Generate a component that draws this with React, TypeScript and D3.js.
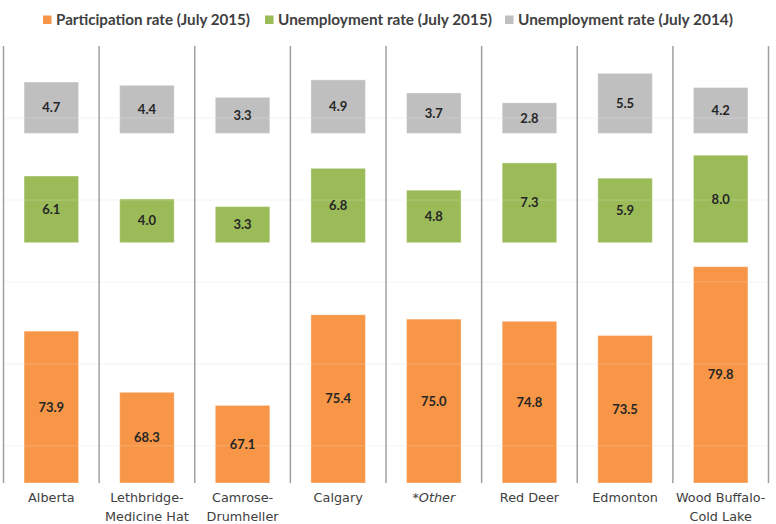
import { useEffect, useRef } from "react";
import * as d3 from "d3";

// regions along the x axis (two-line labels split on "\n")
const regions = [
  "Alberta",
  "Lethbridge-\nMedicine Hat",
  "Camrose-\nDrumheller",
  "Calgary",
  "*Other",
  "Red Deer",
  "Edmonton",
  "Wood Buffalo-\nCold Lake",
];

const participation2015 = [73.9, 68.3, 67.1, 75.4, 75.0, 74.8, 73.5, 79.8];
const unemployment2015 = [6.1, 4.0, 3.3, 6.8, 4.8, 7.3, 5.9, 8.0];
const unemployment2014 = [4.7, 4.4, 3.3, 4.9, 3.7, 2.8, 5.5, 4.2];

const seriesNames = [
  "Participation rate (July 2015)",
  "Unemployment rate (July 2015)",
  "Unemployment rate (July 2014)",
];
const seriesColors = ["#F79646", "#9BBB59", "#BFBFBF"];

// stacked panel layout, in axis units: participation starts at 60,
// unemployment bands float at fixed offsets above it
const participationFloor = 60;
const bandBase = [0, 22, 32];
const axisMax = 40;
const gridValues = [3.4, 10.9, 18.4, 25.9, 33.4];

export default function App() {
  const svgRef = useRef<SVGSVGElement>(null);

  useEffect(() => {
    if (!svgRef.current) return;
    const svg = d3.select(svgRef.current);
    svg.selectAll("*").remove();

    const plot = { left: 3.5, right: 768.5, top: 46, bottom: 483 };

    const x = d3
      .scaleBand<string>()
      .domain(regions)
      .range([plot.left, plot.right])
      .padding(0);
    const y = d3
      .scaleLinear()
      .domain([0, axisMax])
      .range([plot.bottom, plot.top]);

    const barW = 54.5;
    const inset = (x.bandwidth() - barW) / 2;

    // faint gridlines behind bars
    svg
      .append("g")
      .selectAll("line")
      .data(gridValues)
      .enter()
      .append("line")
      .attr("x1", plot.left)
      .attr("x2", plot.right)
      .attr("y1", (d) => y(d))
      .attr("y2", (d) => y(d))
      .attr("stroke", "#f3f3f3")
      .attr("stroke-width", 1);

    const series = [
      participation2015.map((v) => ({ v, lo: 0, hi: v - participationFloor })),
      unemployment2015.map((v) => ({ v, lo: bandBase[1], hi: bandBase[1] + v })),
      unemployment2014.map((v) => ({ v, lo: bandBase[2], hi: bandBase[2] + v })),
    ];

    series.forEach((s, si) => {
      svg
        .append("g")
        .selectAll("rect")
        .data(s)
        .enter()
        .append("rect")
        .attr("x", (_, i) => (x(regions[i]) as number) + inset)
        .attr("width", barW)
        .attr("y", (d) => y(d.hi))
        .attr("height", (d) => y(d.lo) - y(d.hi))
        .attr("fill", seriesColors[si])
        .attr("stroke", "#ffffff")
        .attr("stroke-opacity", 0.35)
        .attr("stroke-width", 1);
    });

    // gridlines show faintly through the bars
    svg
      .append("g")
      .selectAll("line")
      .data(gridValues)
      .enter()
      .append("line")
      .attr("x1", plot.left)
      .attr("x2", plot.right)
      .attr("y1", (d) => y(d))
      .attr("y2", (d) => y(d))
      .attr("stroke", "#ffffff")
      .attr("stroke-opacity", 0.2)
      .attr("stroke-width", 1);

    // value labels centred in each bar
    series.forEach((s) => {
      svg
        .append("g")
        .selectAll("text")
        .data(s)
        .enter()
        .append("text")
        .attr("x", (_, i) => (x(regions[i]) as number) + x.bandwidth() / 2)
        .attr("y", (d) => (y(d.lo) + y(d.hi)) / 2)
        .attr("dy", "0.35em")
        .attr("text-anchor", "middle")
        .attr("fill", "#262626")
        .style("font-family", "Lato, 'Open Sans', sans-serif")
        .style("font-weight", "bold")
        .style("font-size", "13px")
        .text((d) => d.v.toFixed(1));
    });

    // vertical panel separators
    const seps = regions.map((r) => x(r) as number).concat([plot.right]);
    svg
      .append("g")
      .selectAll("line")
      .data(seps)
      .enter()
      .append("line")
      .attr("x1", (d) => d)
      .attr("x2", (d) => d)
      .attr("y1", plot.top)
      .attr("y2", plot.bottom)
      .attr("stroke", "#a0a0a0")
      .attr("stroke-width", 1.5);

    // category labels
    const labels = svg
      .append("g")
      .selectAll("text")
      .data(regions)
      .enter()
      .append("text")
      .attr("x", (d) => (x(d) as number) + x.bandwidth() / 2)
      .attr("y", 502)
      .attr("text-anchor", "middle")
      .attr("fill", "#404040")
      .style("font-family", "'DejaVu Sans', Verdana, sans-serif")
      .style("font-size", "12.8px")
      .style("font-style", (d) => (d.startsWith("*") ? "italic" : "normal"));
    labels.each(function (d) {
      const t = d3.select(this);
      d.split("\n").forEach((line, li) => {
        t.append("tspan")
          .attr("x", (x(d) as number) + x.bandwidth() / 2)
          .attr("dy", li === 0 ? 0 : 19)
          .text(line);
      });
    });

    // legend
    const legendX = [43, 265, 505];
    const legendW = [194, 214, 215];
    const legend = svg.append("g");
    seriesNames.forEach((name, i) => {
      legend
        .append("rect")
        .attr("x", legendX[i])
        .attr("y", 15.5)
        .attr("width", 8.5)
        .attr("height", 8.5)
        .attr("fill", seriesColors[i]);
      legend
        .append("text")
        .attr("x", legendX[i] + 13)
        .attr("y", 25)
        .attr("fill", "#404040")
        .attr("textLength", legendW[i])
        .attr("lengthAdjust", "spacingAndGlyphs")
        .style("font-family", "Lato, 'Open Sans', sans-serif")
        .style("font-weight", "bold")
        .style("font-size", "15px")
        .text(name);
    });
  }, []);

  return (
    <svg
      ref={svgRef}
      width={776}
      height={524}
      style={{ position: "absolute", left: 0, top: 0, background: "#fff" }}
    />
  );
}
